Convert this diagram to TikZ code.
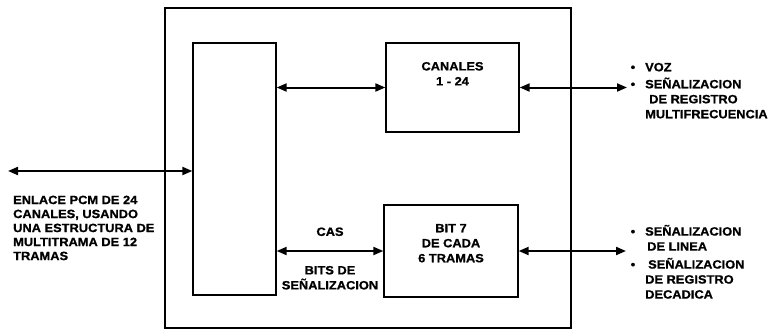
\documentclass[tikz,border=0pt]{standalone}
\usepackage{fontspec}
\setmainfont{Liberation Sans}[BoldFeatures={FakeStretch=1.07,FakeBold=1}]
\usetikzlibrary{positioning,arrows.meta}

\begin{document}
\begin{tikzpicture}[
  x=1pt, y=-1pt, >={Triangle[length=10pt,width=8pt]},
  blk/.style={draw, line width=1.3pt, inner sep=0pt},
  lnk/.style={<->, line width=2pt},
  txt/.style={font=\bfseries\fontsize{12}{15}\selectfont, inner sep=0pt, align=left}
]
  \useasboundingbox (0,0) rectangle (773,332);
  \node[blk, minimum width=406pt, minimum height=320pt] (B0) at (368,168) {};
  \node[blk, minimum width=83pt, minimum height=252pt] (B1) at (234.5,169) {};
  \node[blk, minimum width=133pt, minimum height=89pt] (B2) at (452.5,87.5) {};
  \node[blk, minimum width=134pt, minimum height=92pt] (B3) at (451,251) {};

  \node[txt, align=center, below=19.5pt of B2.north] (T2) {CANALES\\1 - 24};
  \node[txt, align=center, below=19.5pt of B3.north] (T3) {BIT 7\\DE CADA\\6 TRAMAS};

  \coordinate (P0) at (8,171);
  \coordinate (P1) at (627,87.5);
  \coordinate (P2) at (626,251);

  \draw[lnk] (P0) -- (P0 -| B1.west);
  \draw[lnk] (B2.west -| B1.east) -- (B2.west);
  \draw[lnk] (B3.west -| B1.east) --
    node[txt, align=center, above=14pt] (T4) {CAS}
    node[txt, align=center, below=14pt] (T5) {BITS DE\\SEÑALIZACION} (B3.west);
  \draw[lnk] (B2.east) -- (P1);
  \draw[lnk] (B3.east) -- (P2);

  \node[txt, anchor=north west, font=\bfseries\fontsize{12}{14}\selectfont] (T0) at (13,195.5)
    {ENLACE PCM DE 24\\CANALES, USANDO\\UNA ESTRUCTURA DE\\MULTITRAMA DE 12\\TRAMAS};
  \node[txt, anchor=north west] (T1) at (645,62.7)
    {\llap{\textbullet\hspace{10pt}}VOZ\\[2pt]
     \llap{\textbullet\hspace{10pt}}SEÑALIZACION\\
     \hspace{4pt}DE REGISTRO\\
     MULTIFRECUENCIA};
  \node[txt, anchor=north west] (T6) at (645,224.7)
    {\llap{\textbullet\hspace{10pt}}SEÑALIZACION\\
     \hspace{2pt}DE LINEA\\[3pt]
     \llap{\textbullet\hspace{10pt}}\hspace{3pt}SEÑALIZACION\\
     DE REGISTRO\\
     DECADICA};
\end{tikzpicture}
\end{document}
